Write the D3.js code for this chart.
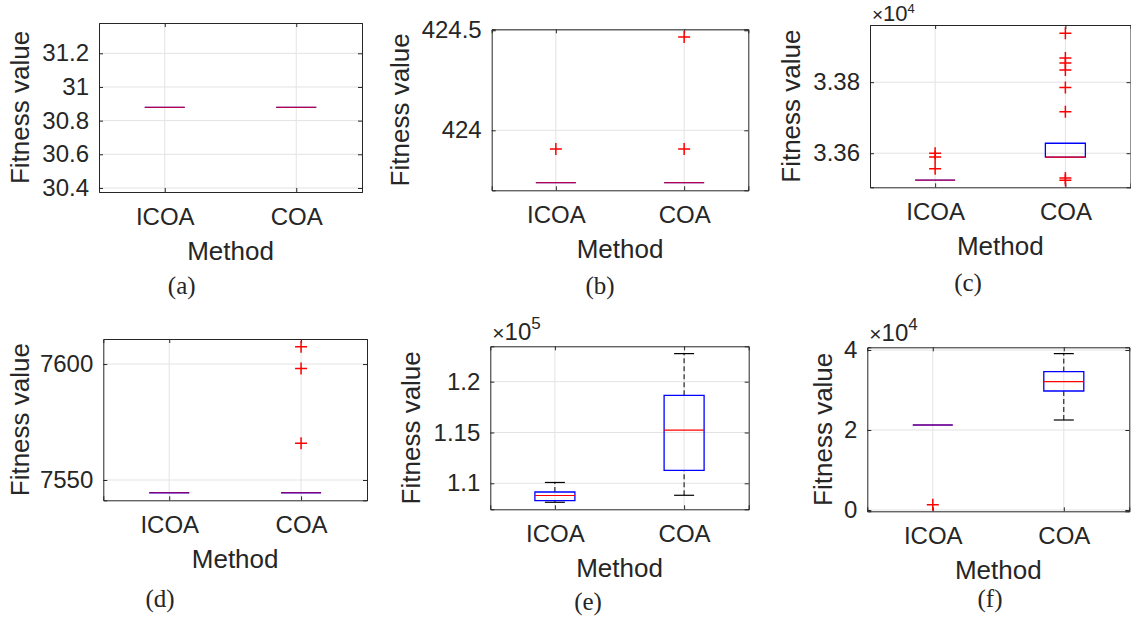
<!DOCTYPE html>
<html>
<head>
<meta charset="utf-8">
<script src="https://cdn.jsdelivr.net/npm/d3@7"></script>
<style>
body{margin:0;background:#fff}
text{font-family:"Liberation Sans",Arial,sans-serif;fill:#262626}
</style>
</head>
<body>
<script>
const W=1131
const H=619

const methods=["ICOA","COA"]
const captions=["(a)","(b)","(c)","(d)","(e)","(f)"]

// y range of each panel, in axis units (already divided by the x10^n factor)
const yDomains=[[30.376,31.38],[423.70,424.505],[3.3504,3.3961],[7541.25,7610.8],[1.0744,1.2348],[-0.033,4.068]]
const yTicks=[[30.4,30.6,30.8,31,31.2],[424,424.5],[3.36,3.38],[7550,7600],[1.1,1.15,1.2],[0,2,4]]
const exponents=[null,null,4,null,5,4]

// [lower whisker, q1, median, q3, upper whisker] for ICOA / COA
const icoaStats=[
  [30.879,30.879,30.879,30.879,30.879],
  [423.738,423.738,423.738,423.738,423.738],
  [3.3524,3.3524,3.3524,3.3524,3.3524],
  [7544.5,7544.5,7544.5,7544.5,7544.5],
  [1.0813,1.0829,1.0880,1.0914,1.1008],
  [2.125,2.125,2.125,2.125,2.125]
]
const coaStats=[
  [30.879,30.879,30.879,30.879,30.879],
  [423.738,423.738,423.738,423.738,423.738],
  [3.3589,3.3589,3.3589,3.3628,3.3628],
  [7544.5,7544.5,7544.5,7544.5,7544.5],
  [1.0882,1.1128,1.1523,1.1866,1.2276],
  [2.25,2.975,3.21,3.46,3.91]
]
const icoaOutliers=[[],[423.906],[3.3600,3.3589,3.3556],[],[],[0.13]]
const coaOutliers=[[],[423.906,424.467],[3.3938,3.3868,3.3854,3.3834,3.3785,3.3717,3.3530,3.3524],[7607.5,7598.1,7565.8],[],[]]

// layout: axes frame [left,right,top,bottom], ylabel x, caption x/y
const frames=[
  [99,362,23,192],[491.7,748.3,29.3,190.3],[870,1130.5,25,187.3],
  [103.3,367,339,500.3],[490.3,748.7,346.3,509.3],[867.3,1129.3,347.3,511.3]
]
const ylabX=[22,401.7,793,21.7,413,825]
const capPos=[[181.7,288],[600,288],[968,285],[160,601.7],[588,604],[990,601.7]]

const svg=d3.create("svg")
    .attr("width",W)
    .attr("height",H)

const boxW=40
const capW=20

frames.forEach((f,i)=>{
  const [l,r,t,b]=f
  const x=d3.scalePoint().domain(methods).range([l,r]).padding(0.5)
  const y=d3.scaleLinear().domain(yDomains[i]).range([b,t])
  const g=svg.append("g")

  // grid
  g.selectAll(".gy").data(yTicks[i]).join("line")
    .attr("x1",l).attr("x2",r).attr("y1",d=>y(d)).attr("y2",d=>y(d))
    .attr("stroke","#e3e3e3").attr("stroke-width",1)
  g.selectAll(".gx").data(methods).join("line")
    .attr("x1",d=>x(d)).attr("x2",d=>x(d)).attr("y1",t).attr("y2",b)
    .attr("stroke","#e3e3e3").attr("stroke-width",1)

  // axes with inward ticks, mirrored
  const fmt=d=>String(d)
  g.append("g").attr("transform",`translate(${l},0)`)
    .call(d3.axisLeft(y).tickValues(yTicks[i]).tickFormat(fmt).tickSize(-4).tickPadding(10))
  g.append("g").attr("transform",`translate(${r},0)`)
    .call(d3.axisRight(y).tickValues(yTicks[i]).tickFormat("").tickSize(-4))
  g.append("g").attr("transform",`translate(0,${b})`)
    .call(d3.axisBottom(x).tickSize(-4).tickPadding(16))
  g.append("g").attr("transform",`translate(0,${t})`)
    .call(d3.axisTop(x).tickFormat("").tickSize(-4))
  g.selectAll(".domain").attr("stroke","#262626")
  g.selectAll(".tick line").attr("stroke","#262626")
  g.selectAll(".tick text").style("font-size","24px").attr("fill","#262626")

  // boxes
  const stats=[icoaStats[i],coaStats[i]]
  const outs=[icoaOutliers[i],coaOutliers[i]]
  methods.forEach((m,k)=>{
    const [lo,q1,med,q3,hi]=stats[k]
    const cx=x(m)
    const bg=g.append("g")
    bg.append("line").attr("x1",cx).attr("x2",cx).attr("y1",y(q3)).attr("y2",y(hi))
      .attr("stroke","#000").attr("stroke-dasharray","5,3").attr("stroke-width",1)
    bg.append("line").attr("x1",cx).attr("x2",cx).attr("y1",y(lo)).attr("y2",y(q1))
      .attr("stroke","#000").attr("stroke-dasharray","5,3").attr("stroke-width",1)
    if(hi>q3) bg.append("line").attr("x1",cx-capW/2).attr("x2",cx+capW/2).attr("y1",y(hi)).attr("y2",y(hi))
      .attr("stroke","#000").attr("stroke-width",1.2)
    if(lo<q1) bg.append("line").attr("x1",cx-capW/2).attr("x2",cx+capW/2).attr("y1",y(lo)).attr("y2",y(lo))
      .attr("stroke","#000").attr("stroke-width",1.2)
    const p=d3.path()
    p.moveTo(cx-boxW/2,y(q1)); p.lineTo(cx+boxW/2,y(q1)); p.lineTo(cx+boxW/2,y(q3)); p.lineTo(cx-boxW/2,y(q3)); p.closePath()
    bg.append("path").attr("d",p.toString()).attr("fill","none").attr("stroke","#0000ff").attr("stroke-width",1.3)
    bg.append("line").attr("x1",cx-boxW/2).attr("x2",cx+boxW/2).attr("y1",y(med)).attr("y2",y(med))
      .attr("stroke","#ff0000").attr("stroke-width",1.2).attr("opacity",q1==q3?0.7:1)
    bg.selectAll("path.out").data(outs[k]).join("path")
      .attr("class","out")
      .attr("d",d=>`M${cx-6},${y(d)}H${cx+6}M${cx},${y(d)-6}V${y(d)+6}`)
      .attr("stroke","#ff0000").attr("stroke-width",1.5).attr("fill","none")
  })

  // labels
  g.append("text").attr("x",(l+r)/2).attr("y",b+61).attr("text-anchor","middle")
    .attr("dominant-baseline","middle").style("font-size","26px").text("Method")
  g.append("text").attr("transform",`translate(${ylabX[i]},${(t+b)/2}) rotate(-90)`)
    .attr("text-anchor","middle").attr("dominant-baseline","middle")
    .style("font-size","26px").text("Fitness value")
  g.append("text").attr("x",capPos[i][0]).attr("y",capPos[i][1])
    .attr("text-anchor","middle").attr("dominant-baseline","middle")
    .style("font-family","'Liberation Serif','Times New Roman',serif").style("font-size","25px")
    .text(captions[i])

  // x10^n multiplier; panel (c) sits at the top edge so it is squeezed a bit
  if(exponents[i]!=null){
    const tight=t<30
    const e=g.append("text").attr("x",l+2).attr("y",tight?t-4:t-6)
    e.append("tspan").style("font-size",tight?"19px":"21px").text("×")
    e.append("tspan").style("font-size",tight?"22px":"24px").text("10")
    e.append("tspan").style("font-size",tight?"13px":"17px").attr("dy",tight?-8:-11).text(exponents[i])
  }
})

d3.select("body").append(()=>svg.node())
</script>
</body>
</html>
